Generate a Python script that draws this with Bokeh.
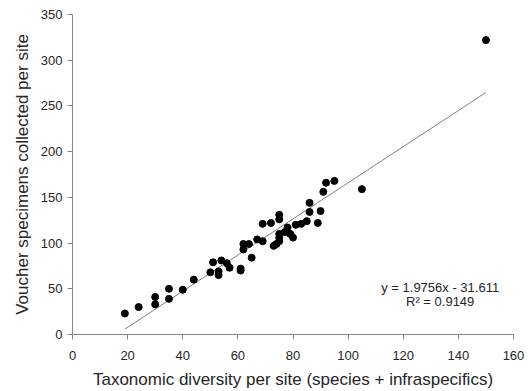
from bokeh.plotting import figure
from bokeh.models import Range1d, Label, FixedTicker
from bokeh.embed import file_html
from bokeh.resources import INLINE

# Data
taxa = [19, 24, 30, 30, 35, 35, 40, 44, 50, 51, 53, 53, 54, 56, 57, 61, 61,
        62, 62, 64, 65, 67, 69, 69, 72, 73, 74, 75, 75, 75, 75, 75, 77, 78,
        79, 80, 81, 83, 85, 86, 86, 89, 90, 91, 92, 95, 105, 150]
vouchers = [23, 30, 41, 33, 50, 39, 49, 60, 68, 79, 69, 65, 81, 78, 73, 72, 70,
            93, 99, 99, 84, 104, 102, 121, 122, 97, 99, 102, 106, 110, 126, 131, 112, 117,
            110, 106, 120, 121, 124, 144, 134, 122, 135, 156, 166, 168, 159, 322]
slope = 1.9756
intercept = -31.611
eq_text = "y = 1.9756x - 31.611"
r2_text = "R² = 0.9149"
x_ticks = [0, 20, 40, 60, 80, 100, 120, 140, 160]
y_ticks = [0, 50, 100, 150, 200, 250, 300, 350]

FONT = "Liberation Sans"
AXIS_GRAY = "#868686"
TEXT = "#262626"

p = figure(width=531, height=391, output_backend="svg", toolbar_location=None,
           x_range=Range1d(0, 160), y_range=Range1d(0, 350),
           min_border_left=72, min_border_right=18, min_border_top=14, min_border_bottom=54)
p.outline_line_color = None
p.xgrid.visible = False
p.ygrid.visible = False

# trend line
x0, x1 = min(taxa), max(taxa)
p.line([x0, x1], [slope * x0 + intercept, slope * x1 + intercept],
       line_color="#7f7f7f", line_width=1)

p.scatter(taxa, vouchers, size=7, marker="circle", fill_color="black", line_color="black")

for ax in (p.xaxis[0], p.yaxis[0]):
    ax.axis_line_color = AXIS_GRAY
    ax.major_tick_line_color = AXIS_GRAY
    ax.minor_tick_line_color = None
    ax.major_tick_out = 5
    ax.major_tick_in = 0
    ax.major_label_text_font = FONT
    ax.major_label_text_font_size = "13px"
    ax.major_label_text_color = TEXT
    ax.axis_label_text_font = FONT
    ax.axis_label_text_font_size = "17px"
    ax.axis_label_text_font_style = "normal"
    ax.axis_label_text_color = TEXT

p.xaxis[0].ticker = FixedTicker(ticks=x_ticks)
p.yaxis[0].ticker = FixedTicker(ticks=y_ticks)
p.xaxis[0].major_label_standoff = 11
p.xaxis[0].axis_label_standoff = 7
p.yaxis[0].major_label_standoff = 5
p.yaxis[0].axis_label_standoff = 6
p.xaxis[0].axis_label = "Taxonomic diversity per site (species + infraspecifics)"
p.yaxis[0].axis_label = "Voucher specimens collected per site"

p.add_layout(Label(x=133.4, y=51, text=eq_text, text_font=FONT, text_font_size="13px",
                   text_color=TEXT, text_align="center", text_baseline="middle"))
p.add_layout(Label(x=133.4, y=36, text=r2_text, text_font=FONT, text_font_size="13px",
                   text_color=TEXT, text_align="center", text_baseline="middle"))

open("out.html", "w").write(file_html(p, INLINE))
